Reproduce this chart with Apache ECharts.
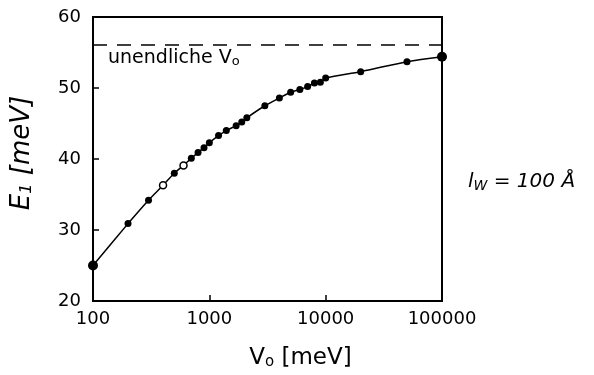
<!DOCTYPE html>
<html>
<head>
<meta charset="utf-8">
<script src="https://cdn.jsdelivr.net/npm/echarts@6/dist/echarts.min.js"></script>
<style>
  html, body { margin: 0; padding: 0; background: #fff; }
  #main { width: 594px; height: 375px; }
</style>
</head>
<body>
<div id="main"></div>
<script>
// Potentialtiefe V0 [meV] und Grundzustandsenergie E1 [meV]
var v0 = [100, 200, 300, 400, 500, 600, 700, 800, 900, 1000, 1200, 1400, 1700, 1900, 2100,
          3000, 4000, 5000, 6000, 7000, 8000, 9000, 10000, 20000, 50000, 100000];
var e1 = [25.0, 30.9, 34.2, 36.3, 38.0, 39.1, 40.1, 40.9, 41.6, 42.3, 43.3, 44.0, 44.7, 45.2, 45.8,
          47.5, 48.6, 49.4, 49.8, 50.2, 50.7, 50.8, 51.4, 52.3, 53.7, 54.4];
var eInf = 56.1;   // unendlich tiefer Topf
var xTicks = [100, 1000, 10000, 100000];
var yTicks = [20, 30, 40, 50, 60];

var hollow = [3, 5];
var font = 'DejaVu Sans';

var data = v0.map(function (v, i) {
  var d = { value: [v, e1[i]] };
  if (i === 0 || i === v0.length - 1) d.symbolSize = 10;
  if (hollow.indexOf(i) >= 0) d.itemStyle = { color: '#fff', borderColor: '#000', borderWidth: 1.5 };
  return d;
});

var myChart = echarts.init(document.getElementById('main'));
myChart.setOption({
  backgroundColor: '#fff',
  animation: false,
  grid: {
    left: 93, right: 152, top: 17, bottom: 72,
    show: true, borderColor: '#000', borderWidth: 2
  },
  xAxis: {
    type: 'log',
    logBase: 10,
    min: xTicks[0],
    max: xTicks[xTicks.length - 1],
    axisLine: { lineStyle: { color: '#000', width: 2 } },
    axisTick: { inside: true, length: 6, lineStyle: { color: '#000', width: 1.5 } },
    splitLine: { show: false },
    axisLabel: {
      color: '#000', fontSize: 18, fontFamily: font, margin: 9,
      formatter: function (v) { return String(Math.round(v)); }
    },
    name: 'V{s|o} [meV]',
    nameLocation: 'middle',
    nameGap: 46,
    nameTextStyle: {
      color: '#000', fontSize: 23, fontFamily: font, padding: [0, 0, 0, 66],
      rich: { s: { fontSize: 15, verticalAlign: 'bottom', padding: [8, 0, 0, 0], color: '#000', fontFamily: font } }
    }
  },
  yAxis: {
    type: 'value',
    min: yTicks[0],
    max: yTicks[yTicks.length - 1],
    interval: 10,
    axisLine: { lineStyle: { color: '#000', width: 2 } },
    axisTick: { inside: true, length: 6, lineStyle: { color: '#000', width: 1.5 } },
    splitLine: { show: false },
    axisLabel: { color: '#000', fontSize: 18, fontFamily: font, margin: 12 },
    name: 'E{s|1} [meV]',
    nameLocation: 'middle',
    nameGap: 58,
    nameTextStyle: {
      color: '#000', fontSize: 26, fontFamily: font, fontStyle: 'italic', padding: [0, 0, 0, 12],
      rich: { s: { fontSize: 16, verticalAlign: 'bottom', padding: [10, 0, 0, 0], color: '#000', fontFamily: font, fontStyle: 'italic' } }
    }
  },
  series: [{
    type: 'line',
    data: data,
    smooth: 0.3,
    symbol: 'circle',
    symbolSize: 7,
    itemStyle: { color: '#000' },
    lineStyle: { color: '#000', width: 1.5 },
    markLine: {
      silent: true,
      symbol: 'none',
      label: { show: false },
      lineStyle: { color: '#000', width: 1.5, type: [14, 10] },
      data: [{ yAxis: eInf }]
    }
  }],
  graphic: [
    {
      type: 'text', left: 108, top: 49,
      style: {
        text: 'unendliche V{s|o}',
        font: '19px "DejaVu Sans"', fill: '#000',
        rich: { s: { fontSize: 13, verticalAlign: 'bottom', padding: [7, 0, 0, 0], fill: '#000', fontFamily: font } }
      }
    },
    {
      type: 'text', left: 468, top: 172,
      style: {
        text: 'l{s|W} = 100 Å',
        font: 'italic 20px "DejaVu Sans"', fill: '#000',
        rich: { s: { fontSize: 14, verticalAlign: 'bottom', padding: [8, 0, 0, 0], fill: '#000', fontFamily: font, fontStyle: 'italic' } }
      }
    }
  ]
});
</script>
</body>
</html>
